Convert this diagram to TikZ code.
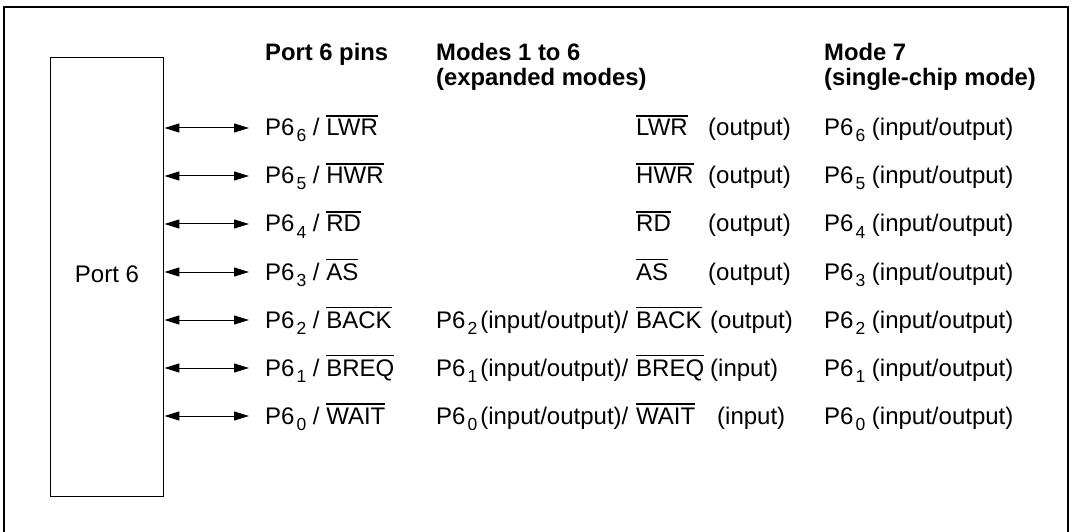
\documentclass[tikz,border=0pt]{standalone}
\usepackage{fontspec}
\setmainfont{Liberation Sans}
\usetikzlibrary{arrows.meta, positioning}
\newcommand{\actlow}[1]{\vbox{\hrule height 1.3pt\kern 2.8pt\hbox{#1}}}
\newcommand{\pinsub}[1]{\kern2pt\raisebox{-6pt}{\fontsize{17.5}{17.5}\selectfont #1}}

\begin{document}
\begin{tikzpicture}[
    x=1pt, y=-1pt,
    txt/.style={inner sep=0pt, anchor=base west, font=\fontsize{24}{27}\selectfont},
    head/.style={txt, font=\fontsize{23.8}{27}\selectfont\bfseries},
    portbox/.style={draw, line width=1.3pt, minimum width=113pt, minimum height=439pt, inner sep=0pt},
    pinarr/.style={{Triangle[length=15pt,width=9pt]}-{Triangle[length=15pt,width=9pt]}, line width=1pt}
]
\useasboundingbox (0,0) rectangle (1072,532);
\draw[line width=2.4pt] (4,532) -- (4,7) -- (1068,7) -- (1068,532);

\node[portbox] (port) at (107.3,277.2) {};
\node[txt, anchor=center] (portlbl) at (107,274) {Port 6};

% headers
\node[head] (hpins) at (265,61) {Port 6 pins};
\node[head] (hexp1) at (436,61) {Modes 1 to 6};
\node[head] (hexp2) at (436,86) {(expanded modes)};
\node[head] (hsc1) at (824,61) {Mode 7};
\node[head] (hsc2) at (824,86) {(single-chip mode)};

% arrow ends
\coordinate (tip6) at (249,128);
\coordinate (tip5) at (249,176);
\coordinate (tip4) at (249,224);
\coordinate (tip3) at (249,272);
\coordinate (tip2) at (249,320);
\coordinate (tip1) at (249,368);
\coordinate (tip0) at (249,416);
\foreach \n in {6,5,4,3,2,1,0}
  \draw[pinarr] (port.east |- tip\n) -- (tip\n);

% pin names
\node[txt] (pin6) at (265,136) {P6\pinsub{6} / \actlow{LWR}};
\node[txt] (pin5) at (265,184) {P6\pinsub{5} / \actlow{HWR}};
\node[txt] (pin4) at (265,232) {P6\pinsub{4} / \actlow{RD}};
\node[txt] (pin3) at (265,280) {P6\pinsub{3} / \actlow{AS}};
\node[txt] (pin2) at (265,328) {P6\pinsub{2} / \actlow{BACK}};
\node[txt] (pin1) at (265,376) {P6\pinsub{1} / \actlow{BREQ}};
\node[txt] (pin0) at (265,424) {P6\pinsub{0} / \actlow{WAIT}};

% modes 1 to 6
\node[txt] (sig6) at (636,136) {\actlow{LWR}};
\node[txt] (sig5) at (636,184) {\actlow{HWR}};
\node[txt] (sig4) at (636,232) {\actlow{RD}};
\node[txt] (sig3) at (636,280) {\actlow{AS}};
\node[txt] (sig2) at (636,328) {\actlow{BACK}};
\node[txt] (sig1) at (636,376) {\actlow{BREQ}};
\node[txt] (sig0) at (636,424) {\actlow{WAIT}};
\node[txt] (dir6) at (708,136) {(output)};
\node[txt] (dir5) at (708,184) {(output)};
\node[txt] (dir4) at (708,232) {(output)};
\node[txt] (dir3) at (708,280) {(output)};
\node[txt] (dir2) at (710,328) {(output)};
\node[txt] (dir1) at (710,376) {(input)};
\node[txt] (dir0) at (717,424) {(input)};
\node[txt] (exp2) at (436,328) {P6\pinsub{2}\kern3pt(input/output)/};
\node[txt] (exp1) at (436,376) {P6\pinsub{1}\kern3pt(input/output)/};
\node[txt] (exp0) at (436,424) {P6\pinsub{0}\kern3pt(input/output)/};

% mode 7
\node[txt] (sc6) at (824,136) {P6\pinsub{6} (input/output)};
\node[txt] (sc5) at (824,184) {P6\pinsub{5} (input/output)};
\node[txt] (sc4) at (824,232) {P6\pinsub{4} (input/output)};
\node[txt] (sc3) at (824,280) {P6\pinsub{3} (input/output)};
\node[txt] (sc2) at (824,328) {P6\pinsub{2} (input/output)};
\node[txt] (sc1) at (824,376) {P6\pinsub{1} (input/output)};
\node[txt] (sc0) at (824,424) {P6\pinsub{0} (input/output)};
\end{tikzpicture}
\end{document}
